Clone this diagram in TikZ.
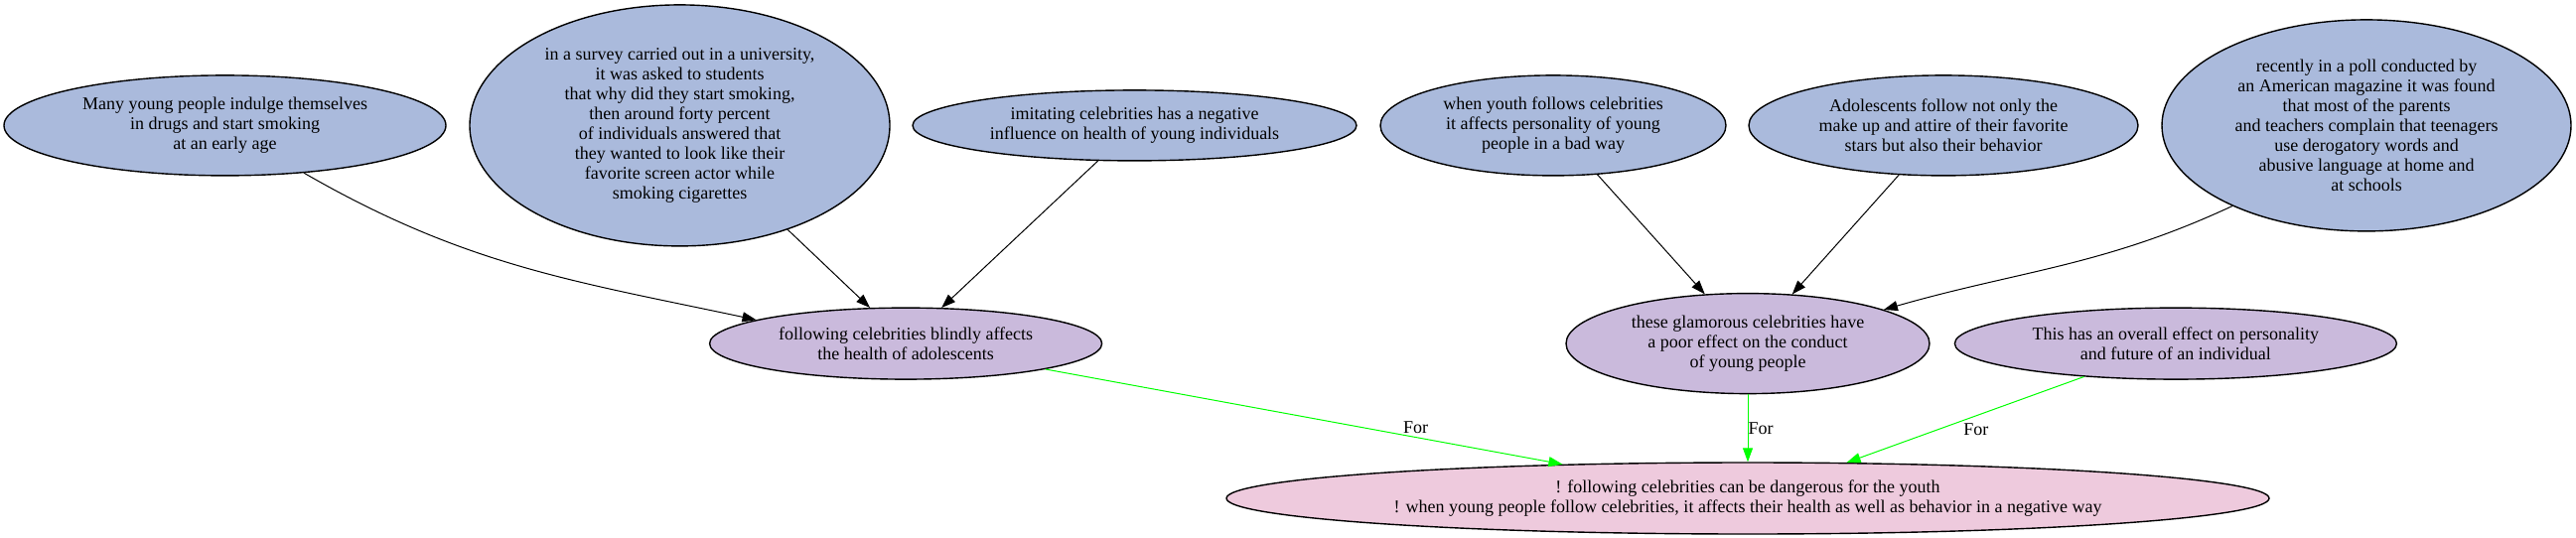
\documentclass[tikz,border=0pt]{standalone}
\usepackage{fontspec}
\setmainfont{Liberation Serif}
\usetikzlibrary{arrows.meta,shapes,positioning}
\definecolor{reasonblue}{RGB}{170,186,220}
\definecolor{claimpurple}{RGB}{202,186,220}
\definecolor{thesispink}{RGB}{238,202,221}

\begin{document}
\begin{tikzpicture}[x=1pt,y=-1pt]
    \tikzstyle{main}=[ellipse, draw=black, line width=1.4pt, inner sep=0pt, align=center, font=\fontsize{18}{20}\selectfont]
    \tikzstyle{reason}=[main, fill=reasonblue]
    \tikzstyle{claim}=[main, fill=claimpurple]
    \tikzstyle{thesis}=[main, fill=thesispink]
    \tikzstyle{connect}=[-{Triangle[length=14pt,width=10pt]}, line width=1pt]
    \tikzstyle{support}=[connect, color=green]
    \tikzstyle{forlabel}=[text=black, font=\fontsize{18}{20}\selectfont, inner sep=0pt]
    \useasboundingbox (0,0) rectangle (2594,541);
    % top row of reasons
    \node[reason, minimum width=445pt, minimum height=101pt] (smoking) at (226.5,126.4) {Many young people indulge themselves\\in drugs and start smoking\\at an early age};
    \node[reason, minimum width=423pt, minimum height=243pt] (survey) at (684.5,126.4) {in a survey carried out in a university,\\it was asked to students\\that why did they start smoking,\\then around forty percent\\of individuals answered that\\they wanted to look like their\\favorite screen actor while\\smoking cigarettes};
    \node[reason, minimum width=447pt, minimum height=71pt] (imitating) at (1142.5,126.4) {imitating celebrities has a negative\\influence on health of young individuals};
    \node[reason, minimum width=348pt, minimum height=101pt] (youth) at (1564,126.4) {when youth follows celebrities\\it affects personality of young\\people in a bad way};
    \node[reason, minimum width=392pt, minimum height=101pt] (attire) at (1957,126.4) {Adolescents follow not only the\\make up and attire of their favorite\\stars but also their behavior};
    \node[reason, minimum width=412pt, minimum height=213pt] (poll) at (2383,126.4) {recently in a poll conducted by\\an American magazine it was found\\that most of the parents\\and teachers complain that teenagers\\use derogatory words and\\abusive language at home and\\at schools};
    % thesis and claims
    \node[thesis, minimum width=1050pt, minimum height=72pt] (thesis) at (1760,502) {! following celebrities can be dangerous for the youth\\! when young people follow celebrities, it affects their health as well as behavior in a negative way};
    \node[claim, minimum width=366pt, minimum height=101pt] (conduct) [above=68pt of thesis] {these glamorous celebrities have\\a poor effect on the conduct\\of young people};
    \node[claim, minimum width=395pt, minimum height=72pt] (blindly) [left=466pt of conduct] {following celebrities blindly affects\\the health of adolescents};
    \node[claim, minimum width=445pt, minimum height=72pt] (overall) [right=24pt of conduct] {This has an overall effect on personality\\and future of an individual};
    \path (smoking.-31) edge [connect, out=-30, in=168] (blindly.171)
    (survey.-44) edge [connect] (blindly.135)
    (imitating.224) edge [connect] (blindly.45)
    (youth.-48) edge [connect] (conduct.131)
    (attire.228) edge [connect] (conduct.48)
    (poll.211) edge [connect, out=205, in=16] (conduct.14);
    \path (blindly) edge [support] node[forlabel, pos=0.716, above=3pt] {For} (thesis)
    (conduct) edge [support] node[forlabel, pos=0.5, right] {For} (thesis)
    (overall) edge [support] node[forlabel, pos=0.61, right=24pt] {For} (thesis);
\end{tikzpicture}
\end{document}
